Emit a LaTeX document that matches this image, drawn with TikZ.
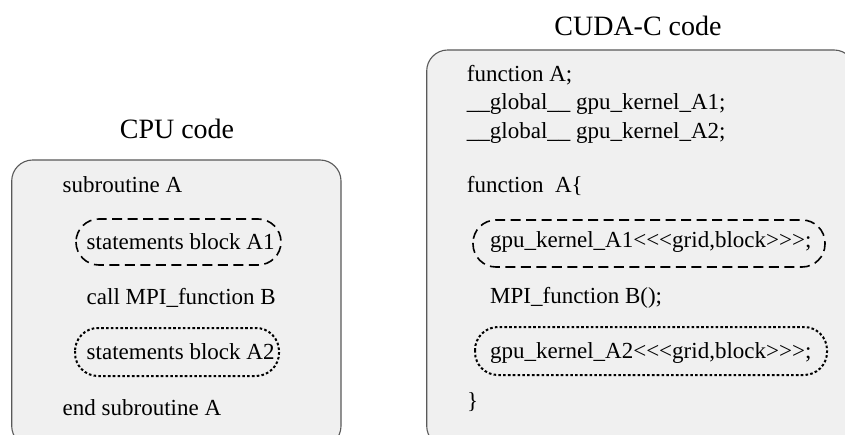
\documentclass[tikz,border=0pt]{standalone}
\usepackage{fontspec}
\setmainfont{Liberation Serif}
\begin{document}
\begin{tikzpicture}[x=1pt,y=-1pt,
  panel/.style={draw=black!65,line width=1.1pt,fill=black!6,rounded corners=21pt},
  dashblock/.style={draw=black,line width=1.6pt,rounded corners=23pt,dash pattern=on 10pt off 5.5pt},
  dotblock/.style={draw=black,line width=2pt,rounded corners=23pt,dash pattern=on 2.6pt off 2.2pt},
  code/.style={anchor=base west,inner sep=0pt,font=\fontsize{23}{28}\selectfont},
  heading/.style={anchor=base,inner sep=0pt,font=\fontsize{28}{34}\selectfont}]
\useasboundingbox (0,0) rectangle (845,435);
\clip (0,0) rectangle (845,435);
\fill[white] (0,0) rectangle (845,435);

% panels
\draw[panel] (11.7,160) rectangle (341,447);
\draw[panel] (426.7,50) rectangle (855,447);

% headings
\node[heading] (cpuhead) at (177,139) {CPU code};
\node[heading] (cudahead) at (638,36) {CUDA-C code};

% CPU code listing
\node[code] (sub) at (62.5,192.5) {subroutine A};
\draw[dashblock] (76,219) rectangle (281,265);
\node[code] (sa1) at (86.5,250) {statements block A1};
\node[code] (mpi) at (86.5,305) {call MPI\_function B};
\draw[dotblock] (75,328) rectangle (279,376);
\node[code] (sa2) at (86.5,359) {statements block A2};
\node[code] (endsub) at (62.5,415) {end subroutine A};

% CUDA-C listing
\node[code] (fa) at (466.7,81.7) {function A;};
\node[code] (g1) at (466.7,110) {\_\_global\_\_ gpu\_kernel\_A1;};
\node[code] (g2) at (466.7,138.5) {\_\_global\_\_ gpu\_kernel\_A2;};
\node[code] (fb) at (466.7,193) {function\ \ A\{};
\draw[dashblock] (473,220) rectangle (825,267);
\node[code] (k1) at (490,248) {gpu\_kernel\_A1<{}<{}<grid,block>{}>{}>;};
\node[code] (mb) at (490,303) {MPI\_function B();};
\draw[dotblock] (475,327) rectangle (827,375);
\node[code] (k2) at (490,358) {gpu\_kernel\_A2<{}<{}<grid,block>{}>{}>;};
\node[code] (cb) at (467,408) {\}};
\end{tikzpicture}
\end{document}
